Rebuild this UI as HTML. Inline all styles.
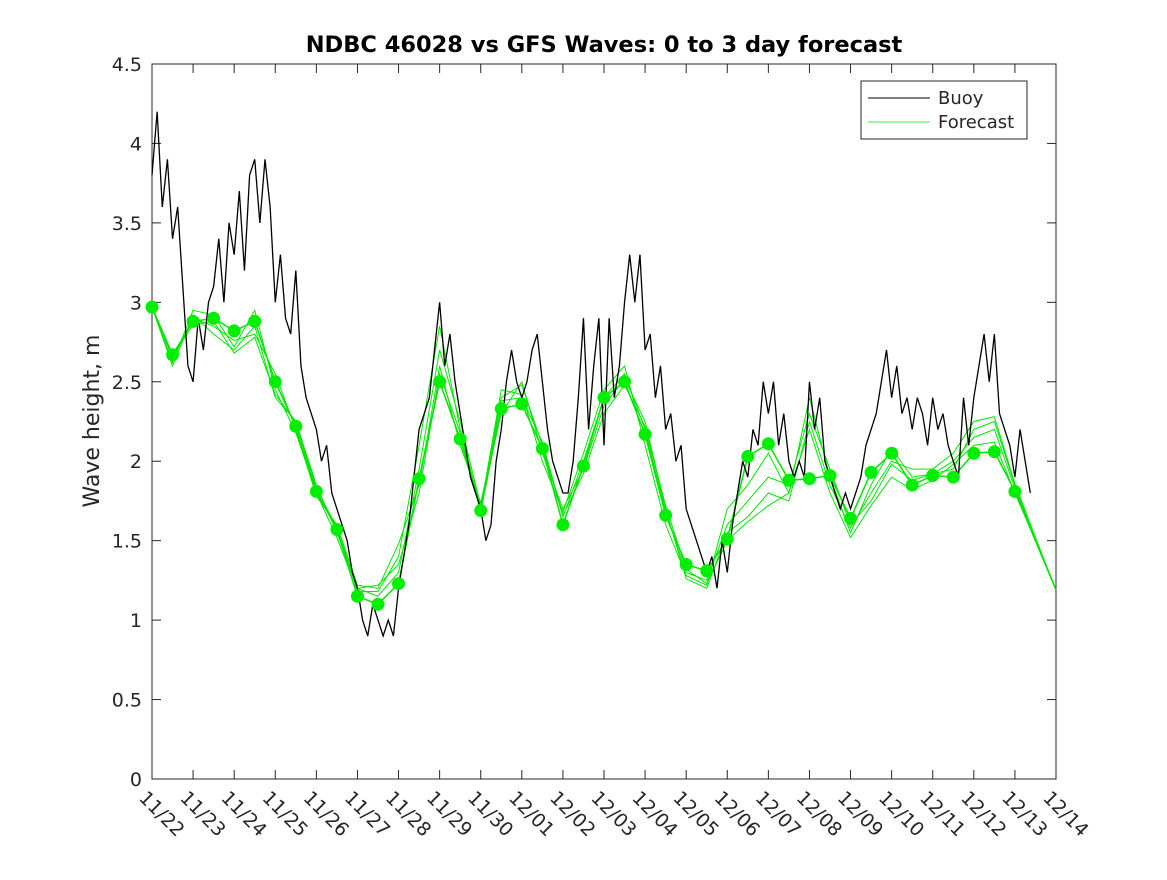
<!DOCTYPE html>
<html><head><meta charset="utf-8"><style>
body{margin:0;background:#fff;}
svg text{font-family:"DejaVu Sans","Liberation Sans",sans-serif;fill:#262626;}
</style></head><body>
<svg id="chart" width="1167" height="875" xmlns="http://www.w3.org/2000/svg">
<text x="604" y="52" font-size="22.5" font-weight="bold" text-anchor="middle" style="fill:#000">NDBC 46028 vs GFS Waves: 0 to 3 day forecast</text>
<text transform="translate(99,421) rotate(-90)" font-size="22" text-anchor="middle">Wave height, m</text>
<g id="grid"></g>
<g id="fc"></g>
<g id="buoy"></g>
<g id="mk"></g>
<g>
<rect x="861" y="81" width="166" height="58" fill="#fff" stroke="#262626" stroke-width="1"/>
<line x1="868" y1="98" x2="930" y2="98" stroke="#000" stroke-width="1"/>
<text x="938" y="104" font-size="18">Buoy</text>
<line x1="868" y1="122" x2="930" y2="122" stroke="#00e600" stroke-width="0.8"/>
<text x="938" y="128" font-size="18">Forecast</text>
</g>
</svg>
<script>
const xTickLabels=["11/22","11/23","11/24","11/25","11/26","11/27","11/28","11/29","11/30","12/01","12/02","12/03","12/04","12/05","12/06","12/07","12/08","12/09","12/10","12/11","12/12","12/13","12/14"];
const yTicks=[0,0.5,1,1.5,2,2.5,3,3.5,4,4.5];
const yTickLabels=["0","0.5","1","1.5","2","2.5","3","3.5","4","4.5"];
// markers every 0.5 day from 11/22
const markers=[2.97,2.67,2.88,2.90,2.82,2.88,2.50,2.22,1.81,1.57,1.15,1.10,1.23,1.89,2.50,2.14,1.69,2.33,2.36,2.08,1.60,1.97,2.40,2.50,2.17,1.66,1.35,1.31,1.51,2.03,2.11,1.88,1.89,1.91,1.64,1.93,2.05,1.85,1.91,1.90,2.05,2.06,1.81];
// forecast lines every 0.5 day from 11/22 to 12/14
const fcA=[2.97,2.62,2.95,2.92,2.72,2.95,2.45,2.18,1.80,1.52,1.18,1.18,1.40,2.10,2.85,2.20,1.70,2.45,2.42,2.00,1.68,2.05,2.45,2.60,2.10,1.60,1.28,1.22,1.70,1.85,2.05,1.80,2.40,1.90,1.55,1.85,2.08,1.90,1.92,1.95,2.20,2.25,1.85,1.50,1.19];
const fcB=[2.97,2.60,2.92,2.80,2.70,2.85,2.40,2.25,1.85,1.55,1.20,1.15,1.30,1.95,2.70,2.25,1.72,2.40,2.48,2.10,1.65,2.00,2.40,2.55,2.20,1.68,1.30,1.25,1.60,1.75,1.90,1.85,2.30,1.95,1.60,1.75,1.98,1.88,1.92,2.00,2.15,2.20,1.83,1.50,1.19];
const fcC=[2.97,2.65,2.90,2.85,2.76,2.80,2.55,2.20,1.78,1.60,1.22,1.20,1.48,1.85,2.60,2.10,1.74,2.30,2.50,2.05,1.70,1.95,2.35,2.52,2.25,1.70,1.26,1.20,1.55,1.65,1.80,1.75,2.25,1.85,1.58,1.80,2.00,1.95,1.95,2.05,2.25,2.28,1.86,1.52,1.19];
const fcD=[2.97,2.66,2.86,2.88,2.68,2.78,2.42,2.25,1.83,1.58,1.20,1.22,1.35,1.80,2.55,2.18,1.68,2.38,2.40,2.12,1.66,1.92,2.30,2.48,2.22,1.72,1.32,1.23,1.50,1.62,1.72,1.80,2.20,1.80,1.52,1.72,1.90,1.82,1.88,1.98,2.10,2.12,1.80,1.50,1.19];
const fcStart=[0,0,0,0];
// buoy every 3 hours from 11/22
const buoy=[3.8,4.2,3.6,3.9,3.4,3.6,3.1,2.6, 2.5,2.9,2.7,3.0,3.1,3.4,3.0,3.5, 3.3,3.7,3.2,3.8,3.9,3.5,3.9,3.6, 3.0,3.3,2.9,2.8,3.2,2.6,2.4,2.3,
2.2,2.0,2.1,1.8,1.7,1.6,1.5,1.3, 1.2,1.0,0.9,1.1,1.0,0.9,1.0,0.9, 1.2,1.4,1.6,1.9,2.2,2.3,2.4,2.7, 3.0,2.6,2.8,2.5,2.3,2.1,1.9,1.8,
1.7,1.5,1.6,2.0,2.2,2.5,2.7,2.5, 2.4,2.5,2.7,2.8,2.5,2.2,2.0,1.9, 1.8,1.8,2.0,2.4,2.9,2.2,2.6,2.9, 2.1,2.9,2.4,2.6,3.0,3.3,3.0,3.3,
2.7,2.8,2.4,2.6,2.2,2.3,2.0,2.1, 1.7,1.6,1.5,1.4,1.3,1.4,1.2,1.5, 1.3,1.6,1.8,2.0,1.9,2.2,2.1,2.5, 2.3,2.5,2.1,2.3,2.0,1.9,2.0,1.9,
2.5,2.2,2.4,2.0,1.9,1.8,1.7,1.8, 1.7,1.8,1.9,2.1,2.2,2.3,2.5,2.7, 2.4,2.6,2.3,2.4,2.2,2.4,2.3,2.1, 2.4,2.2,2.3,2.1,2.0,1.9,2.4,2.1,
2.4,2.6,2.8,2.5,2.8,2.3,2.2,2.1, 1.9,2.2,2.0,1.8];
const NS='http://www.w3.org/2000/svg';
const X0=152,X1=1056,Y0=779,Y1=64;
function xs(d){return X0+d*(X1-X0)/22;}
function ys(v){return Y0-v*(Y0-Y1)/4.5;}
function mk(tag,attrs,parent){const e=document.createElementNS(NS,tag);for(const k in attrs)e.setAttribute(k,attrs[k]);parent.appendChild(e);return e;}
const g=document.getElementById('grid');
let box=mk('rect',{x:X0,y:Y1,width:X1-X0,height:Y0-Y1,fill:'none',stroke:'#262626','stroke-width':1},g);


xTickLabels.forEach((l,i)=>{const x=xs(i);
 mk('line',{x1:x,y1:Y0,x2:x,y2:Y0-9,stroke:'#262626'},g);
 mk('line',{x1:x,y1:Y1,x2:x,y2:Y1+9,stroke:'#262626'},g);
 const t=mk('text',{x:0,y:0,'font-size':19,transform:`translate(${x-14},${Y0+20}) rotate(45)`},g);
 
 
 t.textContent=l;});
yTicks.forEach((v,i)=>{const y=ys(v);
 mk('line',{x1:X0,y1:y,x2:X0+9,y2:y,stroke:'#262626'},g);
 mk('line',{x1:X1,y1:y,x2:X1-9,y2:y,stroke:'#262626'},g);
 const t=mk('text',{x:X0-10,y:y+7,'font-size':19,'text-anchor':'end'},g);
 
 
 t.textContent=yTickLabels[i];});
const fc=document.getElementById('fc');
[fcA,fcB,fcC,fcD].forEach((arr,j)=>{const p=mk('polyline',{points:arr.map((v,i)=>xs((i+fcStart[j])*0.5)+','+ys(v)).join(' '),fill:'none',stroke:'#00e600','stroke-width':1},fc);
 
 });
const mp=mk('polyline',{points:markers.map((v,i)=>xs(i*0.5)+','+ys(v)).join(' ')+' '+xs(22)+','+ys(1.19),fill:'none',stroke:'#00e600','stroke-width':1.5},fc);


const b=mk('polyline',{points:buoy.map((v,i)=>xs(i/8)+','+ys(v)).join(' '),fill:'none',stroke:'#000','stroke-width':1.3},document.getElementById('buoy'));


const m=document.getElementById('mk');
markers.forEach((v,i)=>{const c=mk('circle',{cx:xs(i*0.5),cy:ys(v),r:6.5,fill:'#00ee00'},m);
 
 });
</script>
</body></html>
